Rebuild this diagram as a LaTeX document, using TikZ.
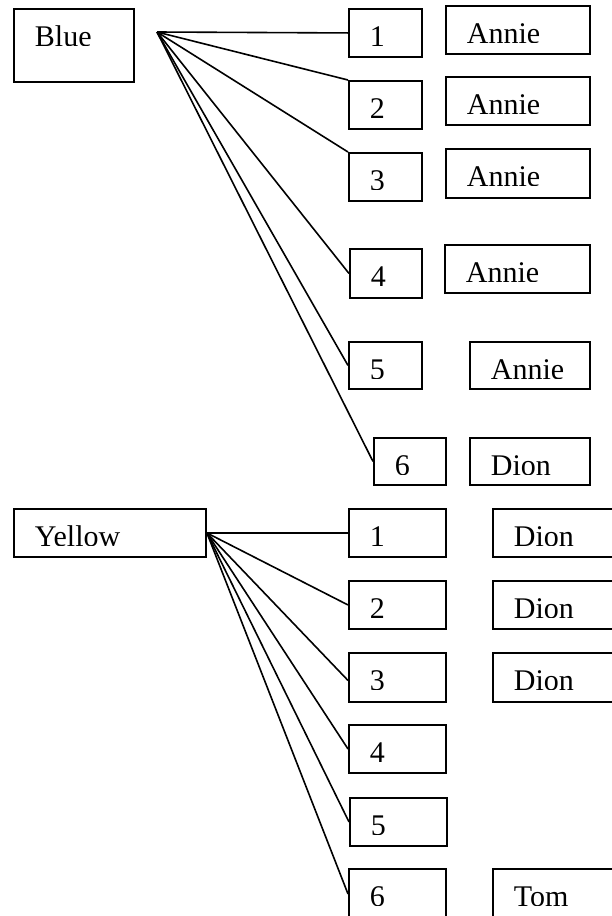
\documentclass[tikz,border=0pt]{standalone}
\usepackage{fontspec}
\setmainfont{Liberation Serif}
\newcommand\lblfont{\fontsize{30pt}{36pt}\selectfont}
\tikzset{
  x=1pt, y=-1pt,
  tbox/.style={draw, line width=1.9pt, inner sep=0pt, anchor=north west,
    path picture={
      \clip (path picture bounding box.north west) rectangle
            ([yshift=-37pt]path picture bounding box.north east);
      \pgftext[base,left,at={\pgfpointadd{\pgfpointanchor{path picture bounding box}{north west}}{\pgfpoint{21pt}{-38pt}}}]{\lblfont #1};
    }},
  link/.style={line width=1.6pt},
}
% \tbx{name}{left}{top}{right}{bottom}{text}
\newcommand\tbx[6]{\node[tbox={#6}, minimum width={(#4-#2)*1pt}, minimum height={(#5-#3)*1pt}] (#1) at (#2,#3) {};}
\begin{document}
\begin{tikzpicture}
\useasboundingbox (0,0) rectangle (612,916);
\clip (0,0) rectangle (612,916);

% Blue group
\tbx{blue}{13}{8}{133}{81}{Blue}
\coordinate (bluehub) at (157,32);
\tbx{b1}{348}{8}{421}{56}{1}
\tbx{b2}{348}{80}{421}{128}{2}
\tbx{b3}{348}{152}{421}{200}{3}
\tbx{b4}{349}{248}{421}{297}{4}
\tbx{b5}{348}{341}{421}{388}{5}
\tbx{b6}{373}{437}{445}{484}{6}
\tbx{bn1}{445}{5}{589}{53}{Annie}
\tbx{bn2}{445}{76}{589}{124}{Annie}
\tbx{bn3}{445}{148}{589}{197}{Annie}
\tbx{bn4}{444}{244}{589}{292}{Annie}
\tbx{bn5}{469}{341}{589}{388}{Annie}
\tbx{bn6}{469}{437}{589}{484}{Dion}

\draw[link] (bluehub) -- (b1.west);
\draw[link] (bluehub) -- (b2.north west);
\draw[link] (bluehub) -- (b3.north west);
\draw[link] (bluehub) -- (b4.west);
\draw[link] (bluehub) -- (b5.west);
\draw[link] (bluehub) -- (b6.west);

% Yellow group
\tbx{yellow}{13}{508}{205}{556}{Yellow}
\tbx{y1}{348}{508}{445}{556}{1}
\tbx{y2}{348}{580}{445}{628}{2}
\tbx{y3}{348}{652}{445}{701}{3}
\tbx{y4}{348}{724}{445}{772}{4}
\tbx{y5}{349}{797}{446}{845}{5}
\tbx{y6}{348}{868}{445}{918}{6}
\tbx{yn1}{492}{508}{630}{556}{Dion}
\tbx{yn2}{492}{580}{630}{628}{Dion}
\tbx{yn3}{492}{652}{630}{701}{Dion}
\tbx{yn6}{492}{868}{630}{918}{Tom}

\draw[link] (yellow.east) -- (y1.west);
\draw[link] (yellow.east) -- (y2.west);
\draw[link] (yellow.east) -- ([yshift=-3pt]y3.west);
\draw[link] (yellow.east) -- (y4.west);
\draw[link] (yellow.east) -- (y5.west);
\draw[link] (yellow.east) -- (y6.west);
\end{tikzpicture}
\end{document}
